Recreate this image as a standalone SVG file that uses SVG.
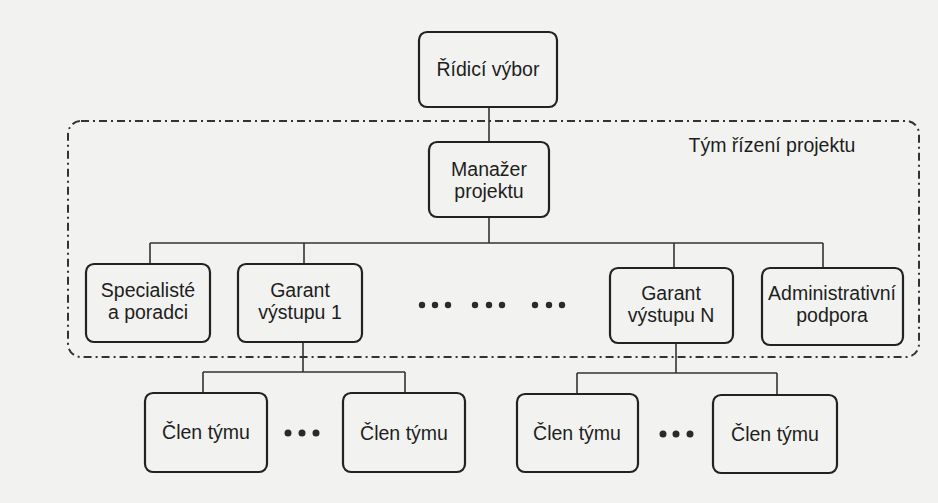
<svg xmlns="http://www.w3.org/2000/svg" width="938" height="503" viewBox="0 0 938 503">
<style>
.box{fill:none;stroke:#222;stroke-width:2.2}
.con{fill:none;stroke:#333;stroke-width:1.6}
.team{fill:none;stroke:#333;stroke-width:2;stroke-dasharray:8 4 2 4}
.t{font-family:"Liberation Sans",Arial,sans-serif;font-size:19.5px;fill:#1e1e1e;text-anchor:middle}
.dot{fill:#2a2a2a}
</style>
<rect width="938" height="503" fill="#f2f2f0"/>
<g id="team-frame">
<rect class="team" x="68" y="121" width="851" height="236" rx="13"/>
<text class="t" x="772" y="152">Tým řízení projektu</text>
</g>
<g id="connectors">
<path class="con" d="M489 107V142M489 217V243M150 243H823M150 243V264M304 243V264M674 243V268M823 243V268"/>
<path class="con" d="M303 342V372M203 372H405M203 372V393M405 372V393"/>
<path class="con" d="M676 343V373M577 373H777M577 373V394M777 373V395"/>
</g>
<g id="ridici-vybor">
<rect class="box" x="419" y="32" width="138" height="75" rx="8"/>
<text class="t" x="488" y="76">Řídicí výbor</text>
</g>
<g id="manazer-projektu">
<rect class="box" x="429" y="142" width="120" height="75" rx="8"/>
<text class="t" x="489" y="176">Manažer</text>
<text class="t" x="489" y="198">projektu</text>
</g>
<g id="specialiste">
<rect class="box" x="86" y="264" width="124" height="78" rx="8"/>
<text class="t" x="148" y="297">Specialisté</text>
<text class="t" x="148" y="319">a poradci</text>
</g>
<g id="garant-1">
<rect class="box" x="238" y="264" width="124" height="78" rx="8"/>
<text class="t" x="300" y="297">Garant</text>
<text class="t" x="300" y="319">výstupu 1</text>
</g>
<g id="ellipsis-middle">
<circle class="dot" cx="422" cy="305" r="3.2"/><circle class="dot" cx="435" cy="305" r="3.2"/><circle class="dot" cx="448" cy="305" r="3.2"/>
<circle class="dot" cx="475" cy="305" r="3.2"/><circle class="dot" cx="489" cy="305" r="3.2"/><circle class="dot" cx="502" cy="305" r="3.2"/>
<circle class="dot" cx="535" cy="305" r="3.2"/><circle class="dot" cx="549" cy="305" r="3.2"/><circle class="dot" cx="562" cy="305" r="3.2"/>
</g>
<g id="garant-n">
<rect class="box" x="610" y="268" width="123" height="75" rx="8"/>
<text class="t" x="671" y="300">Garant</text>
<text class="t" x="671" y="322">výstupu N</text>
</g>
<g id="administrativni-podpora">
<rect class="box" x="762" y="268" width="141" height="77" rx="8"/>
<text class="t" x="832" y="300">Administrativní</text>
<text class="t" x="832" y="322">podpora</text>
</g>
<g id="clen-1">
<rect class="box" x="145" y="393" width="122" height="79" rx="8"/>
<text class="t" x="206" y="439">Člen týmu</text>
</g>
<g id="ellipsis-left">
<circle class="dot" cx="288" cy="433" r="3.5"/><circle class="dot" cx="302" cy="433" r="3.5"/><circle class="dot" cx="316" cy="433" r="3.5"/>
</g>
<g id="clen-2">
<rect class="box" x="343" y="393" width="122" height="79" rx="8"/>
<text class="t" x="404" y="440">Člen týmu</text>
</g>
<g id="clen-3">
<rect class="box" x="517" y="394" width="121" height="78" rx="8"/>
<text class="t" x="577" y="440">Člen týmu</text>
</g>
<g id="ellipsis-right">
<circle class="dot" cx="663" cy="434" r="3.5"/><circle class="dot" cx="676" cy="434" r="3.5"/><circle class="dot" cx="690" cy="434" r="3.5"/>
</g>
<g id="clen-4">
<rect class="box" x="713" y="395" width="124" height="78" rx="8"/>
<text class="t" x="775" y="441">Člen týmu</text>
</g>
</svg>
